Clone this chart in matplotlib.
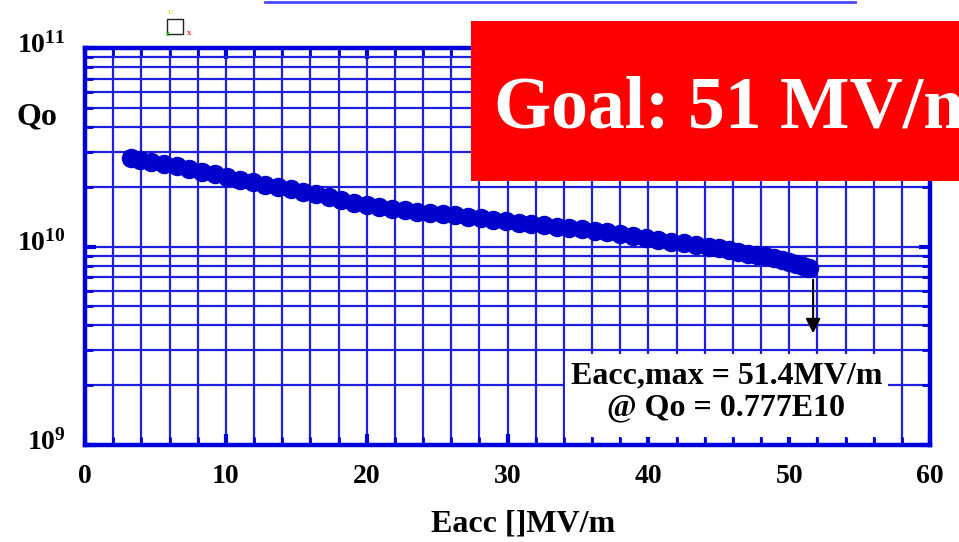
import matplotlib
matplotlib.use("Agg")
import matplotlib.pyplot as plt
import matplotlib.transforms as mtransforms
from matplotlib.ticker import MultipleLocator, LogLocator, FixedLocator, FixedFormatter, NullFormatter
from matplotlib.patches import Rectangle

plt.rcParams['font.family'] = ['Liberation Serif', 'DejaVu Serif']
plt.rcParams['font.weight'] = 'bold'
plt.rcParams['mathtext.fontset'] = 'custom'
plt.rcParams['mathtext.rm'] = 'Liberation Serif:bold'
plt.rcParams['mathtext.it'] = 'Liberation Serif:bold'
plt.rcParams['mathtext.bf'] = 'Liberation Serif:bold'

# ---- data (Eacc in MV/m, Qo in units of 1e10) ----
eacc = [3.3, 3.9, 4.7, 5.6, 6.5, 7.4, 8.3, 9.2, 10.1, 11.0, 11.9, 12.8, 13.7, 14.6,
        15.5, 16.4, 17.3, 18.2, 19.1, 20.0, 20.9, 21.8, 22.7, 23.6, 24.5, 25.4, 26.3,
        27.2, 28.1, 29.0, 29.9, 30.8, 31.7, 32.6, 33.5, 34.4, 35.3, 36.2, 37.1, 38.0,
        38.9, 39.8, 40.7, 41.6, 42.5, 43.4, 44.3, 45.0, 45.7, 46.4, 47.1, 47.7, 48.3,
        48.9, 49.5, 50.0, 50.5, 51.0, 51.4]
qo_e10 = [2.78, 2.74, 2.68, 2.61, 2.53, 2.46, 2.38, 2.31, 2.24, 2.17, 2.11, 2.05, 2.00, 1.95,
          1.89, 1.84, 1.77, 1.71, 1.66, 1.62, 1.58, 1.55, 1.52, 1.50, 1.48, 1.46, 1.44,
          1.41, 1.39, 1.36, 1.34, 1.32, 1.30, 1.28, 1.26, 1.24, 1.22, 1.20, 1.18, 1.16,
          1.13, 1.10, 1.08, 1.05, 1.04, 1.02, 1.00, 0.98, 0.96, 0.94, 0.92, 0.91, 0.90,
          0.88, 0.86, 0.84, 0.82, 0.80, 0.777]
qo = [q * 1e10 for q in qo_e10]

x_ticks = [0, 10, 20, 30, 40, 50, 60]
y_ticks = [1e9, 1e10, 1e11]
y_ticklabels = [r'$10^{9}$', r'$10^{10}$', r'$10^{11}$']
arrow_x = 51.7
arrow_from = 0.68e10
arrow_to = 0.365e10

BLUE = '#0000dd'
GRID = '#1f1fe0'
MARK = '#0000cc'

fig = plt.figure(figsize=(9.59, 5.42), dpi=100)
W, H = 959, 542
ax = fig.add_axes([85 / W, 1 - 445 / H, 845 / W, 397 / H])

ax.set_yscale('log')
ax.set_xlim(0, 60)
ax.set_ylim(1e9, 1e11)

ax.plot(eacc, qo, 'o', color=MARK, mec=MARK, ms=13, zorder=4, clip_on=False)

ax.xaxis.set_major_locator(FixedLocator(x_ticks))
ax.xaxis.set_minor_locator(MultipleLocator(2))
ax.yaxis.set_major_locator(FixedLocator(y_ticks))
ax.yaxis.set_major_formatter(FixedFormatter(y_ticklabels))
ax.yaxis.set_minor_locator(LogLocator(base=10, subs=[2, 3, 4, 5, 6, 7, 8, 9]))
ax.yaxis.set_minor_formatter(NullFormatter())

ax.grid(which='both', color=GRID, lw=1.6, zorder=1)
ax.set_axisbelow(True)

for s in ax.spines.values():
    s.set_color(BLUE)
    s.set_linewidth(3.2)

ax.tick_params(which='both', direction='in', top=True, right=True, color=BLUE)
ax.tick_params(which='major', length=8, width=3)
ax.tick_params(which='minor', length=6, width=2)
ax.tick_params(axis='x', which='major', labelsize=20, pad=14)
ax.tick_params(axis='y', which='major', labelsize=20, pad=16)
shift = mtransforms.ScaledTranslation(2 / 72, -3 / 72, fig.dpi_scale_trans)
for lab in ax.get_yticklabels():
    lab.set_verticalalignment('baseline')
    lab.set_transform(lab.get_transform() + shift)

fig.text(523 / W, 1 - 532 / H, 'Eacc []MV/m', fontsize=23, fontweight='bold',
         ha='center', va='baseline')

fig.text(17 / W, 1 - 117 / H, 'Qo', fontsize=23, fontweight='bold', va='center', ha='left')

# annotation box
ax.add_patch(Rectangle((0.568, 0.020), 0.382, 0.209, transform=ax.transAxes,
                       facecolor='white', edgecolor='none', zorder=3))
ax.text(0.759, 0.133, 'Eacc,max = 51.4MV/m\n@ Qo = 0.777E10', transform=ax.transAxes,
        ha='center', va='center', fontsize=23, fontweight='bold', linespacing=1.15, zorder=5)

ax.annotate('', xy=(arrow_x, arrow_to), xytext=(arrow_x, arrow_from),
            arrowprops=dict(arrowstyle='-|>', color='black', lw=1.5,
                            mutation_scale=22, shrinkA=0, shrinkB=0), zorder=6)

# red goal box
fig.patches.append(Rectangle((471 / W, 1 - 181 / H), 1.0, 160 / H, transform=fig.transFigure,
                             facecolor='#ff0000', edgecolor='none', zorder=10, figure=fig))
fig.text(494 / W, 1 - 128 / H, 'Goal: 51 MV/m', color='white', fontsize=53,
         fontweight='bold', ha='left', va='baseline', zorder=11)

# top decorations
fig.add_artist(plt.Line2D([265 / W, 855 / W], [1 - 1.5 / H, 1 - 1.5 / H], transform=fig.transFigure,
                          color='#4a4aff', lw=2))
fig.patches.append(Rectangle((167 / W, 1 - 34 / H), 16 / W, 15 / H, transform=fig.transFigure,
                             facecolor='none', edgecolor='#222222', lw=1, figure=fig))
fig.text(168 / W, 1 - 12 / H, 'U', color='#e0d000', fontsize=5, ha='left', va='center')
fig.text(166 / W, 1 - 34 / H, 'z', color='#00cc00', fontsize=6, ha='left', va='center')
fig.text(187 / W, 1 - 33 / H, 'x', color='#ff2020', fontsize=6, ha='left', va='center')

fig.savefig('out.png', dpi=100)
